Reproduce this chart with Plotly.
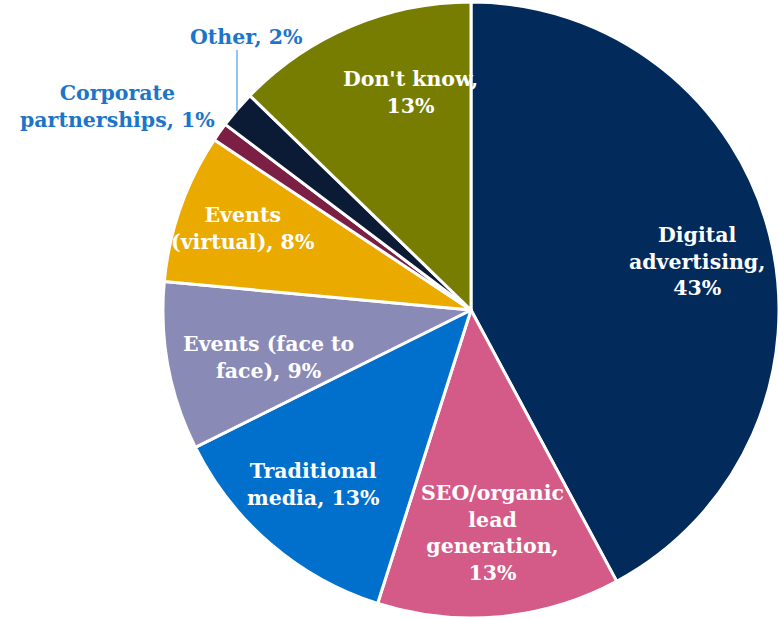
import plotly.graph_objects as go

# Share of leads by source (rounded percentages as published)
categories = [
    "Digital advertising",
    "SEO/organic lead generation",
    "Traditional media",
    "Events (face to face)",
    "Events (virtual)",
    "Corporate partnerships",
    "Other",
    "Don't know",
]
values = [43, 13, 13, 9, 8, 1, 2, 13]
colors = ["#022B5C", "#D45B87", "#0070CC", "#8A8AB6", "#EBAA00", "#7B1F45", "#0B1B36", "#767D00"]

# Line breaks used for each slice label
label_lines = {
    "Digital advertising": ["Digital", "advertising,", "{v}%"],
    "SEO/organic lead generation": ["SEO/organic", "lead", "generation,", "{v}%"],
    "Traditional media": ["Traditional", "media, {v}%"],
    "Events (face to face)": ["Events (face to", "face), {v}%"],
    "Events (virtual)": ["Events", "(virtual), {v}%"],
    "Corporate partnerships": ["Corporate", "partnerships, {v}%"],
    "Other": ["Other, {v}%"],
    "Don't know": ["Don't know,", "{v}%"],
}
# Label centres in pixels (x from left, y from top) and whether drawn outside
label_pos = {
    "Digital advertising": (697, 261, False),
    "SEO/organic lead generation": (492, 533, False),
    "Traditional media": (313, 484, False),
    "Events (face to face)": (268, 357, False),
    "Events (virtual)": (243, 228, False),
    "Corporate partnerships": (117, 106, True),
    "Other": (246, 37, True),
    "Don't know": (410, 92, False),
}

W, H = 779, 619
cx, cy, r = 471, 310, 308
FONT = "DejaVu Serif"

fig = go.Figure(
    go.Pie(
        labels=categories,
        values=values,
        sort=False,
        direction="clockwise",
        rotation=0,
        marker=dict(colors=colors, line=dict(color="white", width=3)),
        textinfo="none",
        hoverinfo="label+value",
        domain=dict(x=[(cx - r) / W, (cx + r) / W], y=[(H - cy - r) / H, (H - cy + r) / H]),
        showlegend=False,
    )
)

annotations = []
for cat, v in zip(categories, values):
    x, y, outside = label_pos[cat]
    text = "<br>".join(line.format(v=v) for line in label_lines[cat])
    annotations.append(
        dict(
            x=x / W, y=1 - y / H, xref="paper", yref="paper",
            text=f"<b>{text}</b>", showarrow=False,
            xanchor="center", yanchor="middle", align="center",
            font=dict(family=FONT, size=20.5, color="#1B75C9" if outside else "white"),
        )
    )

# Leader line for the small "Other" slice
shapes = [
    dict(type="line", xref="paper", yref="paper",
         x0=237 / W, x1=237 / W, y0=1 - 50 / H, y1=1 - 111 / H,
         line=dict(color="#6FB0EE", width=1.5))
]

fig.update_layout(
    width=W, height=H,
    margin=dict(l=0, r=0, t=0, b=0),
    paper_bgcolor="white", plot_bgcolor="white",
    annotations=annotations, shapes=shapes,
)

fig.write_html("out.html")
